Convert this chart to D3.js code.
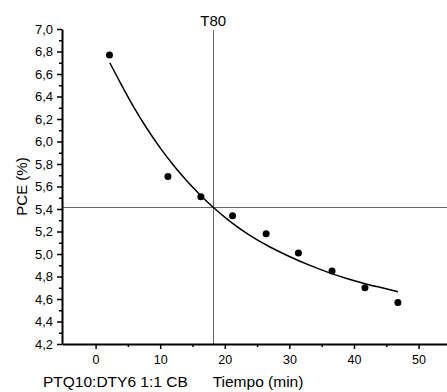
<!DOCTYPE html>
<html>
<head>
<meta charset="utf-8">
<script src="https://cdn.jsdelivr.net/npm/d3@7"></script>
<style>
  html, body { margin: 0; padding: 0; background: #fff; }
  svg { display: block; }
  text { font-family: "Liberation Sans", Arial, sans-serif; fill: #000; }
</style>
</head>
<body>
<svg id="chart" width="447" height="392"></svg>
<script>
// ---- data ----
const pointX = [2.15, 11.2, 16.3, 21.2, 26.4, 31.4, 36.6, 41.7, 46.8];
const pointY = [6.77, 5.69, 5.51, 5.34, 5.18, 5.01, 4.85, 4.70, 4.57];

// fitted curve
const fitX = [2.2, 4, 6, 8, 10, 12, 14, 16, 18.2, 21, 24, 27, 30, 33, 36, 39, 42, 44.5, 46.8];
const fitY = [6.70, 6.504, 6.297, 6.111, 5.943, 5.793, 5.657, 5.536, 5.415, 5.281, 5.161, 5.062, 4.978, 4.903, 4.837, 4.780, 4.732, 4.697, 4.665];

const t80X = 18.2;
const t80Y = 5.415;

const xTicks = [0, 10, 20, 30, 40, 50];
const xMinorTicks = [5, 15, 25, 35, 45];
const yTicks = [4.2, 4.4, 4.6, 4.8, 5.0, 5.2, 5.4, 5.6, 5.8, 6.0, 6.2, 6.4, 6.6, 6.8, 7.0];
const yMinorTicks = [4.3, 4.5, 4.7, 4.9, 5.1, 5.3, 5.5, 5.7, 5.9, 6.1, 6.3, 6.5, 6.7, 6.9];

const xTitle = "Tiempo (min)";
const sampleLabel = "PTQ10:DTY6 1:1 CB";
const yTitle = "PCE (%)";
const refLabel = "T80";

// ---- layout ----
const svg = d3.select("#chart");
const pLeft = 62, pRight = 447, pTop = 29, pBottom = 344;

const x = d3.scaleLinear().domain([-5.2, 54.4]).range([pLeft, pRight]);
const y = d3.scaleLinear().domain([4.2, 7.0]).range([pBottom, pTop]);

const fmt = d => d3.format(".1f")(d).replace(".", ",");

// reference lines
svg.append("line")
  .attr("x1", pLeft).attr("x2", pRight)
  .attr("y1", Math.round(y(t80Y)) + 0.5).attr("y2", Math.round(y(t80Y)) + 0.5)
  .attr("stroke", "#666").attr("stroke-width", 1);
svg.append("line")
  .attr("x1", Math.round(x(t80X)) + 0.5).attr("x2", Math.round(x(t80X)) + 0.5)
  .attr("y1", pTop + 1).attr("y2", pBottom)
  .attr("stroke", "#666").attr("stroke-width", 1);
svg.append("text")
  .attr("x", x(t80X)).attr("y", 26)
  .attr("text-anchor", "middle")
  .style("font-size", "15px")
  .text(refLabel);

// y axis
const yAxis = d3.axisLeft(y).tickValues(yTicks).tickFormat(fmt).tickSize(5).tickSizeOuter(0).tickPadding(4);
const gy = svg.append("g").attr("transform", `translate(${pLeft},0)`).call(yAxis);
gy.selectAll("text").style("font-size", "13px").attr("fill", "#222");
gy.selectAll(".tick line").attr("stroke-width", 1.5);
gy.select(".domain").attr("stroke-width", 2);
const yMinor = d3.axisLeft(y).tickValues(yMinorTicks).tickFormat("").tickSize(3).tickSizeOuter(0);
const gym = svg.append("g").attr("transform", `translate(${pLeft},0)`).call(yMinor);
gym.select(".domain").remove();
gym.selectAll(".tick line").attr("stroke-width", 1.5);

// x axis
const xAxis = d3.axisBottom(x).tickValues(xTicks).tickFormat(d3.format("d")).tickSize(5).tickSizeOuter(0).tickPadding(6);
const gx = svg.append("g").attr("transform", `translate(0,${pBottom})`).call(xAxis);
gx.selectAll("text").style("font-size", "12.5px").attr("fill", "#222");
gx.selectAll(".tick line").attr("stroke-width", 1.5);
gx.select(".domain").attr("stroke-width", 2);
const xMinor = d3.axisBottom(x).tickValues(xMinorTicks).tickFormat("").tickSize(3).tickSizeOuter(0);
const gxm = svg.append("g").attr("transform", `translate(0,${pBottom})`).call(xMinor);
gxm.select(".domain").remove();
gxm.selectAll(".tick line").attr("stroke-width", 1.5);

// titles
svg.append("text")
  .attr("x", 258).attr("y", 387)
  .attr("text-anchor", "middle")
  .style("font-size", "15.5px")
  .text(xTitle);
svg.append("text")
  .attr("x", 43).attr("y", 387)
  .attr("text-anchor", "start")
  .style("font-size", "15.5px")
  .text(sampleLabel);
svg.append("text")
  .attr("transform", `translate(27,${(pTop + pBottom) / 2}) rotate(-90)`)
  .attr("text-anchor", "middle")
  .style("font-size", "15px")
  .text(yTitle);

// fitted curve
const fitData = fitX.map((v, i) => [v, fitY[i]]);
svg.append("path")
  .datum(fitData)
  .attr("fill", "none")
  .attr("stroke", "#000")
  .attr("stroke-width", 1.5)
  .attr("d", d3.line().x(d => x(d[0])).y(d => y(d[1])).curve(d3.curveMonotoneX));

// points
const pts = pointX.map((v, i) => [v, pointY[i]]);
svg.append("g").selectAll("circle")
  .data(pts).join("circle")
  .attr("cx", d => x(d[0])).attr("cy", d => y(d[1]))
  .attr("r", 3.5).attr("fill", "#000");
</script>
</body>
</html>
